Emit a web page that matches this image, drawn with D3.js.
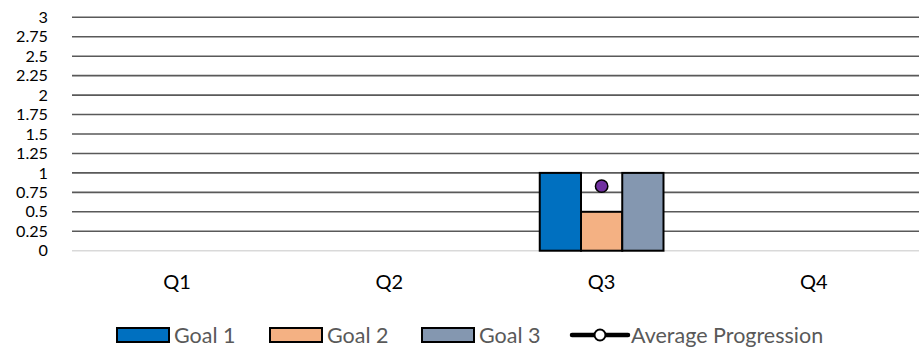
<!DOCTYPE html>
<html>
<head>
<meta charset="utf-8">
<script src="https://cdn.jsdelivr.net/npm/d3@7"></script>
<style>
  html, body { margin: 0; padding: 0; background: #fff; }
  svg { display: block; }
  text { font-family: Lato, "Open Sans", sans-serif; }
</style>
</head>
<body>
<svg id="chart" width="919" height="347"></svg>
<script>
// Quarterly goal progress
const quarters = ["Q1", "Q2", "Q3", "Q4"];
const goal1 = [null, null, 1, null];
const goal2 = [null, null, 0.5, null];
const goal3 = [null, null, 1, null];
const averageProgression = [null, null, 0.83, null];
const yTicks = [0, 0.25, 0.5, 0.75, 1, 1.25, 1.5, 1.75, 2, 2.25, 2.5, 2.75, 3];
const yTickLabels = ["0", "0.25", "0.5", "0.75", "1", "1.25", "1.5", "1.75", "2", "2.25", "2.5", "2.75", "3"];

const seriesNames = ["Goal 1", "Goal 2", "Goal 3"];
const seriesColors = ["#0070C0", "#F4B183", "#8497B0"];
const goals = [goal1, goal2, goal3];

const svg = d3.select("#chart");
const plot = { left: 71, right: 920, top: 17.3, bottom: 250.7 };

const x = d3.scaleBand().domain(quarters).range([plot.left, plot.right]).padding(0);
const y = d3.scaleLinear().domain([0, 3]).range([plot.bottom, plot.top]);
const groupWidth = x.bandwidth() * 0.583;
const xInner = d3.scaleBand().domain(seriesNames)
  .range([-groupWidth / 2, groupWidth / 2]).padding(0);

// gridlines
svg.append("g")
  .selectAll("line")
  .data(yTicks)
  .join("line")
  .attr("x1", plot.left + 1)
  .attr("x2", plot.right)
  .attr("y1", d => y(d))
  .attr("y2", d => y(d))
  .attr("stroke", d => d === 0 ? "#d9d9d9" : "#595959")
  .attr("stroke-width", 1.6);

// y axis labels
const yAxis = d3.axisLeft(y)
  .tickValues(yTicks)
  .tickFormat((d, i) => yTickLabels[i])
  .tickSize(0)
  .tickPadding(0);
const yg = svg.append("g").attr("transform", `translate(48,0)`).call(yAxis);
yg.select(".domain").remove();
yg.selectAll("text")
  .attr("font-size", 16.2)
  .attr("fill", "#000")
  .attr("font-family", "Lato, sans-serif");

// x axis labels
const xAxis = d3.axisBottom(x).tickSize(0).tickPadding(0);
const xg = svg.append("g").attr("transform", `translate(0,${plot.bottom + 24})`).call(xAxis);
xg.select(".domain").remove();
xg.selectAll("text")
  .attr("font-size", 20)
  .attr("fill", "#000")
  .attr("font-family", "Lato, sans-serif");

// bars
const barData = [];
goals.forEach((vals, si) => {
  vals.forEach((v, qi) => {
    if (v !== null) barData.push({ q: quarters[qi], s: seriesNames[si], v, color: seriesColors[si] });
  });
});
svg.append("g")
  .selectAll("rect")
  .data(barData)
  .join("rect")
  .attr("x", d => x(d.q) + x.bandwidth() / 2 + xInner(d.s))
  .attr("y", d => y(d.v))
  .attr("width", xInner.bandwidth())
  .attr("height", d => y(0) - y(d.v))
  .attr("fill", d => d.color)
  .attr("stroke", "#000")
  .attr("stroke-width", 2);

// average progression markers
const avgData = quarters.map((q, i) => ({ q, v: averageProgression[i] })).filter(d => d.v !== null);
svg.append("g")
  .selectAll("circle")
  .data(avgData)
  .join("circle")
  .attr("cx", d => x(d.q) + x.bandwidth() / 2)
  .attr("cy", d => y(d.v))
  .attr("r", 6.2)
  .attr("fill", "#7030A0")
  .attr("stroke", "#000")
  .attr("stroke-width", 1.5);

// legend
const legend = svg.append("g");
const legendY = 335;
const swatchX = [117, 270, 422];
seriesNames.forEach((name, i) => {
  legend.append("rect")
    .attr("x", swatchX[i]).attr("y", legendY - 7)
    .attr("width", 52).attr("height", 14)
    .attr("fill", seriesColors[i])
    .attr("stroke", "#000").attr("stroke-width", 2);
  legend.append("text")
    .attr("x", swatchX[i] + 57).attr("y", legendY)
    .attr("dy", "0.35em")
    .attr("font-size", 21.5)
    .attr("fill", "#595959")
    .text(name);
});
legend.append("line")
  .attr("x1", 572).attr("x2", 628)
  .attr("y1", legendY).attr("y2", legendY)
  .attr("stroke", "#000").attr("stroke-width", 4.5)
  .attr("stroke-linecap", "round");
legend.append("circle")
  .attr("cx", 600).attr("cy", legendY).attr("r", 5.5)
  .attr("fill", "#fff").attr("stroke", "#000").attr("stroke-width", 2);
legend.append("text")
  .attr("x", 631).attr("y", legendY)
  .attr("dy", "0.35em")
  .attr("font-size", 21.5)
  .attr("fill", "#595959")
  .text("Average Progression");
</script>
</body>
</html>
